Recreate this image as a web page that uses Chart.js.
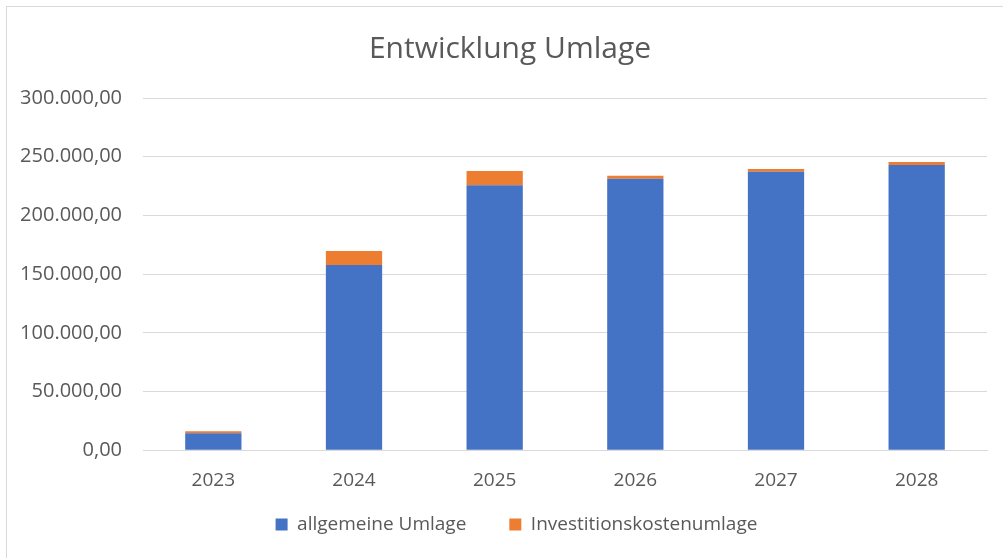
<!DOCTYPE html>
<html>
<head>
<meta charset="utf-8">
<script src="https://cdn.jsdelivr.net/npm/chart.js@4"></script>
<style>
  html, body { margin: 0; padding: 0; background: #fff; overflow: hidden; }
  .chart-container {
    position: absolute; left: 6px; top: 6px; width: 1013px; height: 561px;
    border-left: 1px solid #d9d9d9; border-top: 1px solid #d9d9d9;
  }
  canvas { display: block; }
</style>
</head>
<body>
<div class="chart-container"><canvas id="umlage-chart" width="1012" height="560"></canvas></div>
<script>
const years = ['2023', '2024', '2025', '2026', '2027', '2028'];
const allgemeineUmlage = [14500, 157700, 225600, 231200, 237200, 242900];
const investitionsUmlage = [1700, 11900, 12200, 2500, 2300, 2500];
const yTicks = [0, 50000, 100000, 150000, 200000, 250000, 300000];

const textColor = '#595959';
const fontFamily = "'Open Sans', sans-serif";

// German number format: 300.000,00
function formatDe(value) {
  const parts = Number(value).toFixed(2).split('.');
  const intPart = parts[0].replace(/\B(?=(\d{3})+(?!\d))/g, '.');
  return `${intPart},${parts[1]}`;
}

// Excel-like placement: title and legend centred on the whole chart box,
// legend with a wide item gap but without eating the plot height
const boxTweaks = {
  id: 'boxTweaks',
  beforeLayout(chart) {
    const lg = chart.legend;
    if (lg && !lg._fixed) {
      const fit = lg.fit.bind(lg);
      lg.fit = function () { fit(); this.height = 56; };
      lg._fixed = true;
    }
  },
  afterLayout(chart) {
    const lg = chart.legend;
    lg.top = 465;
    lg.left = 0;
    lg.right = 1019;
    lg.width = lg.right - lg.left;
    lg.height = lg.bottom - lg.top;
    const tb = chart.titleBlock;
    tb.left = 0;
    tb.right = 1006;
    tb.width = tb.right - tb.left;
  }
};

const ctx = document.getElementById('umlage-chart').getContext('2d');

new Chart(ctx, {
  type: 'bar',
  data: {
    labels: years,
    datasets: [
      {
        label: 'allgemeine Umlage',
        data: allgemeineUmlage,
        backgroundColor: '#4472C4',
        borderWidth: 0
      },
      {
        label: 'Investitionskostenumlage',
        data: investitionsUmlage,
        backgroundColor: '#ED7D31',
        borderWidth: 0
      }
    ]
  },
  options: {
    responsive: false,
    animation: false,
    layout: { padding: { left: 0, right: 32, top: 0, bottom: 0 } },
    datasets: { bar: { categoryPercentage: 1, barPercentage: 0.4 } },
    scales: {
      x: {
        stacked: true,
        grid: { display: false, drawTicks: false },
        border: { color: '#d9d9d9', width: 1 },
        ticks: { color: textColor, font: { family: fontFamily, size: 19 }, padding: 19 }
      },
      y: {
        stacked: true,
        min: 0,
        max: 300000,
        afterBuildTicks: axis => { axis.ticks = yTicks.map(v => ({ value: v })); },
        afterFit: axis => { axis.width = 136; },
        grid: { color: '#d9d9d9', drawTicks: false },
        border: { display: false },
        ticks: {
          color: textColor,
          font: { family: fontFamily, size: 20 },
          padding: 21,
          callback: value => formatDe(value)
        }
      }
    },
    plugins: {
      title: {
        display: true,
        text: 'Entwicklung Umlage',
        color: textColor,
        font: { family: fontFamily, size: 30, weight: 'normal' },
        padding: { top: 24, bottom: 31 }
      },
      legend: {
        position: 'bottom',
        labels: {
          color: textColor,
          font: { family: fontFamily, size: 19 },
          boxWidth: 12,
          boxHeight: 12,
          padding: 43
        }
      },
      tooltip: { enabled: false }
    }
  },
  plugins: [boxTweaks]
});
</script>
</body>
</html>
